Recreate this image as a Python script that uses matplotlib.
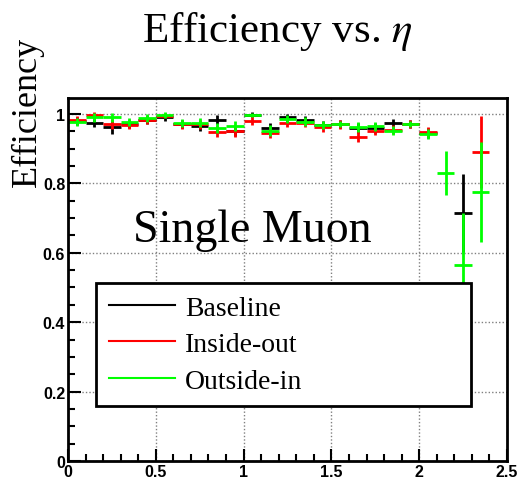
import numpy as np
import matplotlib.pyplot as plt
from matplotlib.lines import Line2D

plt.rcParams['mathtext.fontset'] = 'stix'

# centros de los bins en eta
eta = np.arange(0.05, 2.4, 0.1)
eta_err = 0.05

nan = np.nan
baseline = [0.980, 0.974, 0.963, 0.972, 0.982, 0.990, 0.972, 0.966, 0.984, 0.952,
            0.998, 0.960, 0.990, 0.984, 0.969, 0.971, 0.959, 0.960, 0.974, 0.971,
            0.945, nan, 0.714, nan]
baseline_err = [0.012, 0.012, 0.020, 0.012, 0.012, 0.010, 0.012, 0.014, 0.012, 0.015,
                0.008, 0.015, 0.010, 0.010, 0.012, 0.012, 0.014, 0.014, 0.012, 0.012,
                0.014, nan, 0.113, nan]

inside_out = [0.982, 0.997, 0.971, 0.968, 0.982, 0.995, 0.970, 0.970, 0.949, 0.950,
              0.981, 0.946, 0.973, 0.975, 0.963, 0.970, 0.934, 0.952, 0.955, 0.971,
              0.947, nan, nan, 0.890]
inside_out_err = [0.012, 0.010, 0.014, 0.012, 0.012, 0.008, 0.012, 0.012, 0.016, 0.016,
                  0.012, 0.016, 0.012, 0.012, 0.014, 0.012, 0.016, 0.014, 0.014, 0.012,
                  0.014, nan, nan, 0.103]

outside_in = [0.977, 0.990, 0.990, 0.977, 0.988, 0.997, 0.974, 0.975, 0.960, 0.966,
              0.998, 0.952, 0.986, 0.978, 0.968, 0.971, 0.962, 0.964, 0.952, 0.971,
              0.942, 0.830, 0.566, 0.775]
outside_in_err = [0.012, 0.012, 0.014, 0.012, 0.012, 0.008, 0.012, 0.012, 0.014, 0.014,
                  0.006, 0.016, 0.012, 0.012, 0.012, 0.010, 0.014, 0.014, 0.014, 0.010,
                  0.014, 0.063, 0.150, 0.145]

series = [("Baseline", baseline, baseline_err, "black"),
          ("Inside-out", inside_out, inside_out_err, "#ff0000"),
          ("Outside-in", outside_in, outside_in_err, "#00ff00")]

fig = plt.figure(figsize=(5.25, 4.85), dpi=100)
ax = fig.add_axes([0.1295, 0.0474, 0.8362, 0.7485])

for nombre, y, yerr, color in series:
    ax.errorbar(eta, y, xerr=eta_err, yerr=yerr, fmt='none', ecolor=color,
                elinewidth=2, capsize=0)

ax.set_xlim(0, 2.5)
ax.set_ylim(0, 1.046)
ax.set_xticks(np.arange(0, 2.51, 0.5))
ax.set_xticks(np.arange(0, 2.51, 0.1), minor=True)
ax.set_yticks(np.arange(0, 1.01, 0.2))
ax.set_yticks(np.arange(0, 1.01, 0.05), minor=True)
ax.set_xticklabels(['0', '0.5', '1', '1.5', '2', '2.5'])
ax.set_yticklabels(['0', '0.2', '0.4', '0.6', '0.8', '1'])
ax.tick_params(which='both', direction='in', width=1.5, top=False, right=False)
ax.tick_params(which='major', length=9)
ax.tick_params(which='minor', length=5)
for lab in ax.get_xticklabels() + ax.get_yticklabels():
    lab.set_fontfamily('Liberation Sans')
    lab.set_fontweight('bold')
    lab.set_fontsize(11.5)
ax.tick_params(axis='x', pad=2)
ax.tick_params(axis='y', pad=2)
for s in ax.spines.values():
    s.set_linewidth(2)
ax.grid(True, which='major', color='gray', linestyle=(0, (1, 1.5)), linewidth=1)
ax.set_axisbelow(True)

ax.text(1.05, 0.665, "Single Muon", family='Liberation Serif', fontsize=33,
        ha='center', va='center')

handles = [Line2D([], [], color=c, lw=1.5) for _, _, _, c in series]
leg = ax.legend(handles, [s[0] for s in series], loc='lower left',
                bbox_to_anchor=(0.064, 0.151, 0.854, 0.345), mode='expand',
                borderaxespad=0,
                prop={'family': 'Liberation Serif', 'size': 20},
                handlelength=2.4, handletextpad=0.35, labelspacing=0.4,
                borderpad=0.45,
                fancybox=False, edgecolor='black', framealpha=1)
leg.get_frame().set_linewidth(2)

fig.text(0.528, 0.935, r"Efficiency vs. $\eta$", family='Liberation Serif',
         fontsize=31, ha='center', va='center')
fig.text(0.052, 0.77, "Efficiency", family='Liberation Serif', fontsize=26,
         rotation=90, ha='center', va='center')

fig.savefig('out.png', dpi=100)
